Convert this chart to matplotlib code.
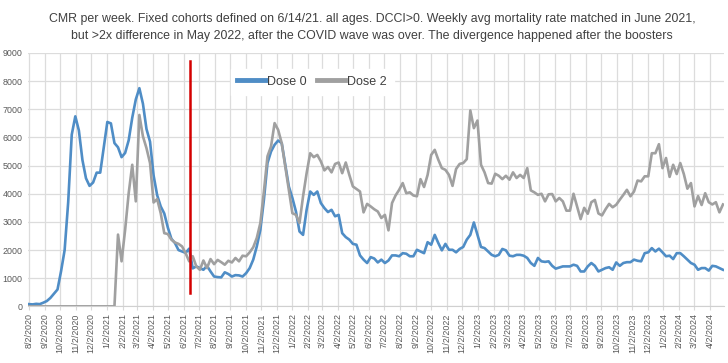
import datetime as dt
import matplotlib
matplotlib.use("Agg")
import matplotlib.pyplot as plt
import matplotlib.dates as mdates

# weekly CMR values, starting week of 8/2/2020
start = dt.date(2020, 8, 2)

dose0 = [80, 70, 90, 80, 130, 190, 300, 450, 600, 1250,
         2000, 3700, 6100, 6750, 6250, 5200, 4550, 4280, 4400, 4750,
         4750, 5650, 6550, 6500, 5800, 5650, 5300, 5450, 5900, 6700,
         7350, 7750, 7200, 6300, 5850, 4650, 3950, 3550, 3300, 2800,
         2400, 2250, 2000, 1950, 1900, 2050, 1350, 1420, 1360, 1300,
         1440, 1240, 1060, 1040, 1030, 1210, 1150, 1060, 1110, 1100,
         1060, 1180, 1360, 1660, 2130, 2720, 3790, 5090, 5500, 5740,
         5890, 5800, 5030, 4260, 3850, 3370, 2660, 2540, 3430, 4080,
         3960, 4080, 3670, 3490, 3350, 3430, 3200, 3250, 2600, 2460,
         2370, 2220, 2190, 1810, 1660, 1540, 1750, 1700, 1560, 1660,
         1540, 1630, 1810, 1810, 1780, 1890, 1870, 1780, 1780, 2010,
         1950, 1890, 2280, 2190, 2540, 2250, 1990, 2220, 2010, 2010,
         1920, 2040, 2110, 2370, 2540, 2980, 2540, 2110, 2070, 1950,
         1830, 1780, 1830, 2040, 1990, 1800, 1780, 1830, 1830, 1800,
         1720, 1540, 1440, 1720, 1600, 1580, 1600, 1440, 1340, 1380,
         1420, 1420, 1420, 1480, 1440, 1240, 1240, 1420, 1540, 1440,
         1240, 1300, 1360, 1390, 1300, 1560, 1440, 1540, 1570, 1570,
         1660, 1620, 1600, 1890, 1920, 2070, 1950, 2050, 1920, 1780,
         1800, 1680, 1890, 1890, 1780, 1660, 1540, 1480, 1300, 1360,
         1360, 1270, 1440, 1420, 1360, 1300]

dose2 = [0] * 25 + [
         2550, 1600, 2720, 4020, 5030,
         3730, 6800, 6040, 5620, 5090, 3690, 3810, 3310, 2600, 2570,
         2370, 2270, 2220, 2130, 1890, 1600, 1780, 1420, 1300, 1630,
         1360, 1680, 1500, 1650, 1570, 1480, 1620, 1560, 1720, 1600,
         1800, 1780, 1920, 2100, 2430, 2960, 4080, 5330, 5680, 6510,
         6270, 5800, 4970, 4140, 3310, 3250, 2960, 3910, 4730, 5440,
         5300, 5380, 5150, 4830, 4950, 4760, 5060, 5110, 4730, 5110,
         4670, 4260, 4170, 4080, 3340, 3640, 3550, 3450, 3370, 3140,
         3250, 2700, 3670, 3940, 4140, 4380, 4020, 4050, 3940, 3910,
         4520, 4240, 4670, 5380, 5560, 5210, 4910, 4850, 4670, 4280,
         4880, 5060, 5090, 5230, 6960, 6330, 6600, 5030, 4760, 4380,
         4360, 4710, 4640, 4520, 4640, 4500, 4760, 4560, 4670, 4560,
         4910, 4120, 4050, 3960, 4000, 3730, 3980, 3990, 3730, 3850,
         3730, 3400, 3400, 4000, 3550, 3100, 3500, 3290, 3700, 3780,
         3300, 3230, 3450, 3640, 3520, 3610, 3790, 3960, 4140, 3910,
         4080, 4470, 4440, 4620, 4620, 5440, 5440, 5760, 4910, 5270,
         4600, 5030, 4700, 5090, 4700, 4180, 4380, 3550, 3920, 3600,
         4020, 3700, 3620, 3700, 3340, 3620]

weeks = [start + dt.timedelta(days=7 * i) for i in range(len(dose0))]

# cohort date marker
cohort_day = dt.date(2021, 6, 14)
marker_lo, marker_hi = 460, 8700

# monthly ticks 8/2/2020 .. 4/2/2024
ticks = []
y, m = 2020, 8
while (y, m) <= (2024, 4):
    ticks.append(dt.date(y, m, 2))
    m += 1
    if m > 12:
        m, y = 1, y + 1
tick_labels = [f"{d.month}/{d.day}/{d.year}" for d in ticks]

title = ("CMR per week. Fixed cohorts defined on 6/14/21. all ages. DCCI>0. "
         "Weekly avg mortality rate matched in June 2021,\n"
         "but >2x difference in May 2022, after the COVID wave was over. "
         "The divergence happened after the boosters")

plt.rcParams['font.family'] = ['Liberation Sans', 'DejaVu Sans']

fig = plt.figure(figsize=(7.28, 3.63), dpi=100)
ax = fig.add_axes([0.0385, 0.156, 0.956, 0.698])

blue = '#4F8DC6'
grey = '#A0A0A0'

ax.plot(weeks, dose0, color=blue, lw=1.9, label='Dose 0', zorder=3)
ax.plot(weeks, dose2, color=grey, lw=1.9, label='Dose 2', zorder=4)
ax.plot([cohort_day, cohort_day], [marker_lo, marker_hi], color='#D40000', lw=1.8, zorder=5)

ax.set_ylim(0, 9000)
ax.set_yticks(range(0, 9001, 1000))
ax.set_xlim(dt.date(2020, 7, 31), dt.date(2024, 4, 30))
ax.set_xticks(ticks)
ax.set_xticklabels(tick_labels, rotation=90)
ax.tick_params(axis='x', labelsize=6.4, colors='#595959', length=3, color='#D9D9D9', pad=2)
ax.tick_params(axis='y', labelsize=6.4, colors='#595959', length=0, pad=4)

ax.grid(True, color='#DCDCDC', lw=0.9)
ax.set_axisbelow(True)
for s in ['top', 'right', 'left']:
    ax.spines[s].set_visible(False)
ax.spines['bottom'].set_color('#D0D0D0')

leg = ax.legend(loc='upper left', bbox_to_anchor=(0.282, 0.962), ncol=2, frameon=True,
                fancybox=False, edgecolor='white', facecolor='white', framealpha=1,
                handlelength=2.25, handletextpad=0.15, columnspacing=0.8,
                borderpad=0.55, prop={'size': 9})
for h in leg.get_lines():
    h.set_linewidth(3.5)
for t in leg.get_texts():
    t.set_color('#404040')
leg.set_zorder(6)

fig.text(0.511, 0.923, title, ha='center', va='center', fontsize=8.9,
         color='#404040', linespacing=1.55)

fig.savefig('out.png', dpi=100)
